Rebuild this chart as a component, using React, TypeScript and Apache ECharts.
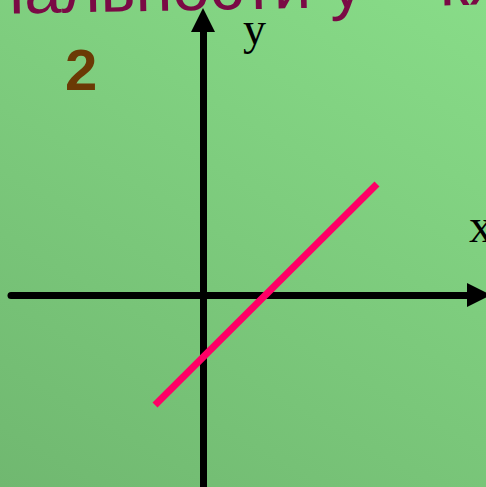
import React, { useEffect, useRef } from "react";
import * as echarts from "echarts";

// Data (in chart units; axes cross at 0,0)
const lineX: number[] = [-48, 174];
const lineY: number[] = [-110, 111];
const xRange: number[] = [-192, 276];
const yRange: number[] = [-192, 275];
const headerText = "нальности у = кх";
const numberLabel = "2";
const xLabel = "x";
const yLabel = "y";

export default function App() {
  const ref = useRef<HTMLDivElement>(null);
  useEffect(() => {
    if (!ref.current) return;
    const chart = echarts.init(ref.current, undefined, { renderer: "svg" });
    const axisCommon = {
      type: "value" as const,
      axisLine: {
        show: true,
        onZero: true,
        symbol: ["none", "triangle"],
        symbolSize: [24, 24],
        lineStyle: { color: "#000", width: 7 },
      },
      axisTick: { show: false },
      axisLabel: { show: false },
      splitLine: { show: false },
    };
    chart.setOption({
      animation: false,
      backgroundColor: "transparent",
      grid: { left: 11, right: 7, top: 20, bottom: 0, containLabel: false },
      xAxis: { ...axisCommon, min: xRange[0], max: xRange[1] },
      yAxis: { ...axisCommon, min: yRange[0], max: yRange[1] },
      series: [
        {
          type: "line",
          data: lineX.map((x, i) => [x, lineY[i]]),
          symbol: "none",
          lineStyle: { color: "#ff0066", width: 7, cap: "butt" },
          z: 5,
        },
      ],
      graphic: [
        {
          type: "text",
          x: -13,
          y: -9.5,
          rotation: 0.019,
          style: {
            text: headerText,
            font: "67px 'Liberation Sans', Arial, sans-serif",
            fill: "#7a0a45",
            align: "left",
            verticalAlign: "middle",
          },
        },
        {
          type: "text",
          x: 65,
          y: 69,
          style: {
            text: numberLabel,
            font: "bold 58px 'Liberation Sans', Arial, sans-serif",
            fill: "#6b3a05",
            align: "left",
            verticalAlign: "middle",
          },
        },
        {
          type: "text",
          x: 243,
          y: 28,
          style: {
            text: yLabel,
            font: "46px 'Liberation Serif', 'Times New Roman', serif",
            fill: "#000",
            align: "left",
            verticalAlign: "middle",
          },
        },
        {
          type: "text",
          x: 469,
          y: 225,
          style: {
            text: xLabel,
            font: "48px 'Liberation Serif', 'Times New Roman', serif",
            fill: "#000",
            align: "left",
            verticalAlign: "middle",
          },
        },
      ],
    });
    return () => chart.dispose();
  }, []);
  return (
    <div
      style={{
        position: "fixed",
        left: 0,
        top: 0,
        width: 486,
        height: 487,
        overflow: "hidden",
        background: "linear-gradient(30deg, #70b870 0%, #7cca7c 50%, #88dc88 100%)",
      }}
    >
      <div ref={ref} style={{ width: 486, height: 487 }} />
    </div>
  );
}
